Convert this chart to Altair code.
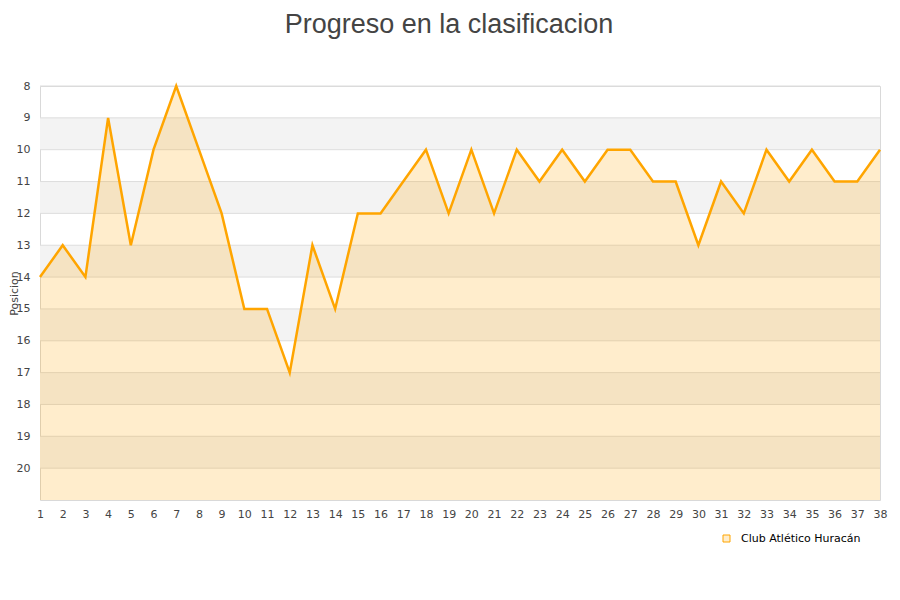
import altair as alt
import pandas as pd

rounds = list(range(1, 39))
positions = [14, 13, 14, 9, 13, 10, 8, 10, 12, 15, 15, 17, 13, 15, 12, 12, 11, 10, 12,
             10, 12, 10, 11, 10, 11, 10, 10, 11, 11, 13, 11, 12, 10, 11, 10, 11, 11, 10]
team = "Club Atlético Huracán"
band_starts = [9, 11, 13, 15, 17, 19]
grid_values = list(range(8, 21))
y_ticks = list(range(8, 21))

df = pd.DataFrame({"jornada": rounds, "pos": positions,
                   "base": [21] * len(rounds), "team": [team] * len(rounds)})
bands = pd.DataFrame({"y": band_starts, "y2": [b + 1 for b in band_starts]})
grid = pd.DataFrame({"y": grid_values})

W, H = 840, 414
yscale = alt.Scale(domain=[8, 21], reverse=True, nice=False, zero=False)
xscale = alt.Scale(domain=[1, 38], nice=False, zero=False)
yaxis = alt.Axis(values=y_ticks, title="Posicion", labelPadding=10,
                 titleX=-26, titleY=H / 2, titleAlign="center", titleBaseline="middle",
                 titleAngle=-90)
xaxis = alt.Axis(values=rounds, title=None, labelAngle=0, labelPadding=8,
                 labelFlush=False)

band_layer = alt.Chart(bands).mark_rect(color="#f3f3f3").encode(
    x=alt.value(0), x2=alt.value(W),
    y=alt.Y("y:Q", scale=yscale, axis=yaxis), y2="y2:Q")

grid_layer = alt.Chart(grid).mark_rule(color="#dddddd", strokeWidth=1).encode(
    x=alt.value(0), x2=alt.value(W),
    y=alt.Y("y:Q", scale=yscale, axis=yaxis))

area_layer = alt.Chart(df).mark_area(color="#ffa500", opacity=0.2).encode(
    x=alt.X("jornada:Q", scale=xscale, axis=xaxis),
    y=alt.Y("pos:Q", scale=yscale, axis=yaxis), y2="base:Q")

line_layer = alt.Chart(df).mark_line(strokeWidth=2.5).encode(
    x=alt.X("jornada:Q", scale=xscale, axis=xaxis),
    y=alt.Y("pos:Q", scale=yscale, axis=yaxis),
    stroke=alt.Stroke("team:N", scale=alt.Scale(domain=[team], range=["#ffa500"]),
                      legend=alt.Legend(title=None, orient="none", legendX=681, legendY=447,
                                        symbolType="square", symbolFillColor="#ffedcc",
                                        symbolStrokeColor="#ffa500", symbolStrokeWidth=1,
                                        symbolSize=49, symbolOpacity=1, labelOffset=9,
                                        labelFont="DejaVu Sans", labelFontSize=11,
                                        labelColor="#000000", padding=0)))

chart = alt.layer(band_layer, grid_layer, area_layer, line_layer).properties(
    width=W, height=H,
    autosize=alt.AutoSizeParams(type="none"),
    padding={"left": 32, "top": 78, "right": 12, "bottom": 76},
    title=alt.Title("Progreso en la clasificacion", font="Liberation Sans", fontSize=27,
                    fontWeight="normal", color="#444444", anchor="middle", dx=-11,
                    offset=41),
).configure_axis(
    labelFont="DejaVu Sans", labelFontSize=11, labelColor="#444444",
    titleFont="DejaVu Sans", titleFontSize=11, titleColor="#444444", titleFontWeight="normal",
    domain=False, ticks=False, grid=False,
).configure_view(stroke="#d9d9d9", strokeWidth=1)

chart.save("out.html", embed_options={"renderer": "svg", "actions": False})
